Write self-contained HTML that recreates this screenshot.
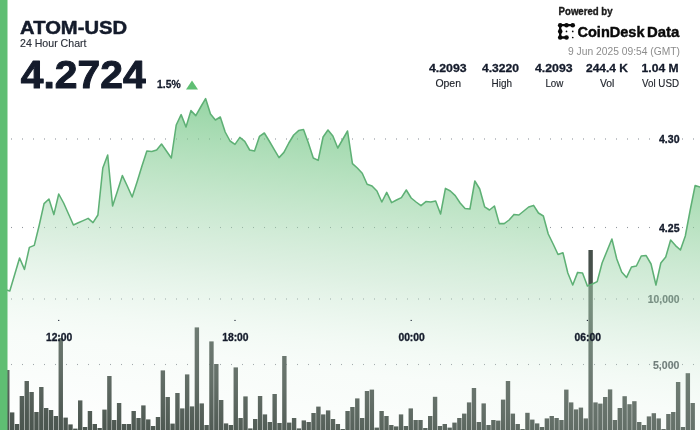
<!DOCTYPE html>
<html lang="en"><head><meta charset="utf-8"><title>ATOM-USD 24 Hour Chart</title>
<style>html,body{margin:0;padding:0;background:#fff;}svg{display:block;}</style></head>
<body>
<svg width="700" height="430" viewBox="0 0 700 430" font-family="'Liberation Sans', sans-serif">
<defs>
<linearGradient id="ag" gradientUnits="userSpaceOnUse" x1="300.00" y1="98.00" x2="257.80" y2="464.99"><stop offset="0.0000" stop-color="#5dbe73" stop-opacity="0.685"/><stop offset="0.2321" stop-color="#89ce97" stop-opacity="0.570"/><stop offset="0.4643" stop-color="#b4ddbe" stop-opacity="0.445"/><stop offset="0.5625" stop-color="#c3e5cc" stop-opacity="0.350"/><stop offset="0.6473" stop-color="#d4eddb" stop-opacity="0.280"/><stop offset="0.7232" stop-color="#e0f2e5" stop-opacity="0.227"/><stop offset="0.7812" stop-color="#e0f2e5" stop-opacity="0.197"/><stop offset="0.8661" stop-color="#e0f2e5" stop-opacity="0.118"/><stop offset="0.9375" stop-color="#e0f2e5" stop-opacity="0.053"/><stop offset="1.0000" stop-color="#e0f2e5" stop-opacity="0.020"/></linearGradient>
</defs>
<rect width="700" height="430" fill="#fff"/>
<g fill="#92969d">
<rect x="11.00" y="138.45" width="1" height="1.1"/><rect x="22.00" y="138.45" width="1" height="1.1"/><rect x="33.00" y="138.45" width="1" height="1.1"/><rect x="44.00" y="138.45" width="1" height="1.1"/><rect x="55.00" y="138.45" width="1" height="1.1"/><rect x="66.00" y="138.45" width="1" height="1.1"/><rect x="77.00" y="138.45" width="1" height="1.1"/><rect x="88.00" y="138.45" width="1" height="1.1"/><rect x="99.00" y="138.45" width="1" height="1.1"/><rect x="110.00" y="138.45" width="1" height="1.1"/><rect x="121.00" y="138.45" width="1" height="1.1"/><rect x="132.00" y="138.45" width="1" height="1.1"/><rect x="143.00" y="138.45" width="1" height="1.1"/><rect x="154.00" y="138.45" width="1" height="1.1"/><rect x="165.00" y="138.45" width="1" height="1.1"/><rect x="176.00" y="138.45" width="1" height="1.1"/><rect x="187.00" y="138.45" width="1" height="1.1"/><rect x="198.00" y="138.45" width="1" height="1.1"/><rect x="209.00" y="138.45" width="1" height="1.1"/><rect x="220.00" y="138.45" width="1" height="1.1"/><rect x="231.00" y="138.45" width="1" height="1.1"/><rect x="242.00" y="138.45" width="1" height="1.1"/><rect x="253.00" y="138.45" width="1" height="1.1"/><rect x="264.00" y="138.45" width="1" height="1.1"/><rect x="275.00" y="138.45" width="1" height="1.1"/><rect x="286.00" y="138.45" width="1" height="1.1"/><rect x="297.00" y="138.45" width="1" height="1.1"/><rect x="308.00" y="138.45" width="1" height="1.1"/><rect x="319.00" y="138.45" width="1" height="1.1"/><rect x="330.00" y="138.45" width="1" height="1.1"/><rect x="341.00" y="138.45" width="1" height="1.1"/><rect x="352.00" y="138.45" width="1" height="1.1"/><rect x="363.00" y="138.45" width="1" height="1.1"/><rect x="374.00" y="138.45" width="1" height="1.1"/><rect x="385.00" y="138.45" width="1" height="1.1"/><rect x="396.00" y="138.45" width="1" height="1.1"/><rect x="407.00" y="138.45" width="1" height="1.1"/><rect x="418.00" y="138.45" width="1" height="1.1"/><rect x="429.00" y="138.45" width="1" height="1.1"/><rect x="440.00" y="138.45" width="1" height="1.1"/><rect x="451.00" y="138.45" width="1" height="1.1"/><rect x="462.00" y="138.45" width="1" height="1.1"/><rect x="473.00" y="138.45" width="1" height="1.1"/><rect x="484.00" y="138.45" width="1" height="1.1"/><rect x="495.00" y="138.45" width="1" height="1.1"/><rect x="506.00" y="138.45" width="1" height="1.1"/><rect x="517.00" y="138.45" width="1" height="1.1"/><rect x="528.00" y="138.45" width="1" height="1.1"/><rect x="539.00" y="138.45" width="1" height="1.1"/><rect x="550.00" y="138.45" width="1" height="1.1"/><rect x="561.00" y="138.45" width="1" height="1.1"/><rect x="572.00" y="138.45" width="1" height="1.1"/><rect x="583.00" y="138.45" width="1" height="1.1"/><rect x="594.00" y="138.45" width="1" height="1.1"/><rect x="605.00" y="138.45" width="1" height="1.1"/><rect x="616.00" y="138.45" width="1" height="1.1"/><rect x="627.00" y="138.45" width="1" height="1.1"/><rect x="638.00" y="138.45" width="1" height="1.1"/><rect x="649.00" y="138.45" width="1" height="1.1"/><rect x="660.00" y="138.45" width="1" height="1.1"/><rect x="671.00" y="138.45" width="1" height="1.1"/><rect x="682.00" y="138.45" width="1" height="1.1"/><rect x="693.00" y="138.45" width="1" height="1.1"/>
<rect x="11.00" y="226.95" width="1" height="1.1"/><rect x="22.00" y="226.95" width="1" height="1.1"/><rect x="33.00" y="226.95" width="1" height="1.1"/><rect x="44.00" y="226.95" width="1" height="1.1"/><rect x="55.00" y="226.95" width="1" height="1.1"/><rect x="66.00" y="226.95" width="1" height="1.1"/><rect x="77.00" y="226.95" width="1" height="1.1"/><rect x="88.00" y="226.95" width="1" height="1.1"/><rect x="99.00" y="226.95" width="1" height="1.1"/><rect x="110.00" y="226.95" width="1" height="1.1"/><rect x="121.00" y="226.95" width="1" height="1.1"/><rect x="132.00" y="226.95" width="1" height="1.1"/><rect x="143.00" y="226.95" width="1" height="1.1"/><rect x="154.00" y="226.95" width="1" height="1.1"/><rect x="165.00" y="226.95" width="1" height="1.1"/><rect x="176.00" y="226.95" width="1" height="1.1"/><rect x="187.00" y="226.95" width="1" height="1.1"/><rect x="198.00" y="226.95" width="1" height="1.1"/><rect x="209.00" y="226.95" width="1" height="1.1"/><rect x="220.00" y="226.95" width="1" height="1.1"/><rect x="231.00" y="226.95" width="1" height="1.1"/><rect x="242.00" y="226.95" width="1" height="1.1"/><rect x="253.00" y="226.95" width="1" height="1.1"/><rect x="264.00" y="226.95" width="1" height="1.1"/><rect x="275.00" y="226.95" width="1" height="1.1"/><rect x="286.00" y="226.95" width="1" height="1.1"/><rect x="297.00" y="226.95" width="1" height="1.1"/><rect x="308.00" y="226.95" width="1" height="1.1"/><rect x="319.00" y="226.95" width="1" height="1.1"/><rect x="330.00" y="226.95" width="1" height="1.1"/><rect x="341.00" y="226.95" width="1" height="1.1"/><rect x="352.00" y="226.95" width="1" height="1.1"/><rect x="363.00" y="226.95" width="1" height="1.1"/><rect x="374.00" y="226.95" width="1" height="1.1"/><rect x="385.00" y="226.95" width="1" height="1.1"/><rect x="396.00" y="226.95" width="1" height="1.1"/><rect x="407.00" y="226.95" width="1" height="1.1"/><rect x="418.00" y="226.95" width="1" height="1.1"/><rect x="429.00" y="226.95" width="1" height="1.1"/><rect x="440.00" y="226.95" width="1" height="1.1"/><rect x="451.00" y="226.95" width="1" height="1.1"/><rect x="462.00" y="226.95" width="1" height="1.1"/><rect x="473.00" y="226.95" width="1" height="1.1"/><rect x="484.00" y="226.95" width="1" height="1.1"/><rect x="495.00" y="226.95" width="1" height="1.1"/><rect x="506.00" y="226.95" width="1" height="1.1"/><rect x="517.00" y="226.95" width="1" height="1.1"/><rect x="528.00" y="226.95" width="1" height="1.1"/><rect x="539.00" y="226.95" width="1" height="1.1"/><rect x="550.00" y="226.95" width="1" height="1.1"/><rect x="561.00" y="226.95" width="1" height="1.1"/><rect x="572.00" y="226.95" width="1" height="1.1"/><rect x="583.00" y="226.95" width="1" height="1.1"/><rect x="594.00" y="226.95" width="1" height="1.1"/><rect x="605.00" y="226.95" width="1" height="1.1"/><rect x="616.00" y="226.95" width="1" height="1.1"/><rect x="627.00" y="226.95" width="1" height="1.1"/><rect x="638.00" y="226.95" width="1" height="1.1"/><rect x="649.00" y="226.95" width="1" height="1.1"/><rect x="660.00" y="226.95" width="1" height="1.1"/><rect x="671.00" y="226.95" width="1" height="1.1"/><rect x="682.00" y="226.95" width="1" height="1.1"/><rect x="693.00" y="226.95" width="1" height="1.1"/>
<rect x="11.00" y="298.45" width="1" height="1.1"/><rect x="22.00" y="298.45" width="1" height="1.1"/><rect x="33.00" y="298.45" width="1" height="1.1"/><rect x="44.00" y="298.45" width="1" height="1.1"/><rect x="55.00" y="298.45" width="1" height="1.1"/><rect x="66.00" y="298.45" width="1" height="1.1"/><rect x="77.00" y="298.45" width="1" height="1.1"/><rect x="88.00" y="298.45" width="1" height="1.1"/><rect x="99.00" y="298.45" width="1" height="1.1"/><rect x="110.00" y="298.45" width="1" height="1.1"/><rect x="121.00" y="298.45" width="1" height="1.1"/><rect x="132.00" y="298.45" width="1" height="1.1"/><rect x="143.00" y="298.45" width="1" height="1.1"/><rect x="154.00" y="298.45" width="1" height="1.1"/><rect x="165.00" y="298.45" width="1" height="1.1"/><rect x="176.00" y="298.45" width="1" height="1.1"/><rect x="187.00" y="298.45" width="1" height="1.1"/><rect x="198.00" y="298.45" width="1" height="1.1"/><rect x="209.00" y="298.45" width="1" height="1.1"/><rect x="220.00" y="298.45" width="1" height="1.1"/><rect x="231.00" y="298.45" width="1" height="1.1"/><rect x="242.00" y="298.45" width="1" height="1.1"/><rect x="253.00" y="298.45" width="1" height="1.1"/><rect x="264.00" y="298.45" width="1" height="1.1"/><rect x="275.00" y="298.45" width="1" height="1.1"/><rect x="286.00" y="298.45" width="1" height="1.1"/><rect x="297.00" y="298.45" width="1" height="1.1"/><rect x="308.00" y="298.45" width="1" height="1.1"/><rect x="319.00" y="298.45" width="1" height="1.1"/><rect x="330.00" y="298.45" width="1" height="1.1"/><rect x="341.00" y="298.45" width="1" height="1.1"/><rect x="352.00" y="298.45" width="1" height="1.1"/><rect x="363.00" y="298.45" width="1" height="1.1"/><rect x="374.00" y="298.45" width="1" height="1.1"/><rect x="385.00" y="298.45" width="1" height="1.1"/><rect x="396.00" y="298.45" width="1" height="1.1"/><rect x="407.00" y="298.45" width="1" height="1.1"/><rect x="418.00" y="298.45" width="1" height="1.1"/><rect x="429.00" y="298.45" width="1" height="1.1"/><rect x="440.00" y="298.45" width="1" height="1.1"/><rect x="451.00" y="298.45" width="1" height="1.1"/><rect x="462.00" y="298.45" width="1" height="1.1"/><rect x="473.00" y="298.45" width="1" height="1.1"/><rect x="484.00" y="298.45" width="1" height="1.1"/><rect x="495.00" y="298.45" width="1" height="1.1"/><rect x="506.00" y="298.45" width="1" height="1.1"/><rect x="517.00" y="298.45" width="1" height="1.1"/><rect x="528.00" y="298.45" width="1" height="1.1"/><rect x="539.00" y="298.45" width="1" height="1.1"/><rect x="550.00" y="298.45" width="1" height="1.1"/><rect x="561.00" y="298.45" width="1" height="1.1"/><rect x="572.00" y="298.45" width="1" height="1.1"/><rect x="583.00" y="298.45" width="1" height="1.1"/><rect x="594.00" y="298.45" width="1" height="1.1"/><rect x="605.00" y="298.45" width="1" height="1.1"/><rect x="616.00" y="298.45" width="1" height="1.1"/><rect x="627.00" y="298.45" width="1" height="1.1"/><rect x="638.00" y="298.45" width="1" height="1.1"/><rect x="649.00" y="298.45" width="1" height="1.1"/><rect x="660.00" y="298.45" width="1" height="1.1"/><rect x="671.00" y="298.45" width="1" height="1.1"/><rect x="682.00" y="298.45" width="1" height="1.1"/><rect x="693.00" y="298.45" width="1" height="1.1"/>
<rect x="11.00" y="363.95" width="1" height="1.1"/><rect x="22.00" y="363.95" width="1" height="1.1"/><rect x="33.00" y="363.95" width="1" height="1.1"/><rect x="44.00" y="363.95" width="1" height="1.1"/><rect x="55.00" y="363.95" width="1" height="1.1"/><rect x="66.00" y="363.95" width="1" height="1.1"/><rect x="77.00" y="363.95" width="1" height="1.1"/><rect x="88.00" y="363.95" width="1" height="1.1"/><rect x="99.00" y="363.95" width="1" height="1.1"/><rect x="110.00" y="363.95" width="1" height="1.1"/><rect x="121.00" y="363.95" width="1" height="1.1"/><rect x="132.00" y="363.95" width="1" height="1.1"/><rect x="143.00" y="363.95" width="1" height="1.1"/><rect x="154.00" y="363.95" width="1" height="1.1"/><rect x="165.00" y="363.95" width="1" height="1.1"/><rect x="176.00" y="363.95" width="1" height="1.1"/><rect x="187.00" y="363.95" width="1" height="1.1"/><rect x="198.00" y="363.95" width="1" height="1.1"/><rect x="209.00" y="363.95" width="1" height="1.1"/><rect x="220.00" y="363.95" width="1" height="1.1"/><rect x="231.00" y="363.95" width="1" height="1.1"/><rect x="242.00" y="363.95" width="1" height="1.1"/><rect x="253.00" y="363.95" width="1" height="1.1"/><rect x="264.00" y="363.95" width="1" height="1.1"/><rect x="275.00" y="363.95" width="1" height="1.1"/><rect x="286.00" y="363.95" width="1" height="1.1"/><rect x="297.00" y="363.95" width="1" height="1.1"/><rect x="308.00" y="363.95" width="1" height="1.1"/><rect x="319.00" y="363.95" width="1" height="1.1"/><rect x="330.00" y="363.95" width="1" height="1.1"/><rect x="341.00" y="363.95" width="1" height="1.1"/><rect x="352.00" y="363.95" width="1" height="1.1"/><rect x="363.00" y="363.95" width="1" height="1.1"/><rect x="374.00" y="363.95" width="1" height="1.1"/><rect x="385.00" y="363.95" width="1" height="1.1"/><rect x="396.00" y="363.95" width="1" height="1.1"/><rect x="407.00" y="363.95" width="1" height="1.1"/><rect x="418.00" y="363.95" width="1" height="1.1"/><rect x="429.00" y="363.95" width="1" height="1.1"/><rect x="440.00" y="363.95" width="1" height="1.1"/><rect x="451.00" y="363.95" width="1" height="1.1"/><rect x="462.00" y="363.95" width="1" height="1.1"/><rect x="473.00" y="363.95" width="1" height="1.1"/><rect x="484.00" y="363.95" width="1" height="1.1"/><rect x="495.00" y="363.95" width="1" height="1.1"/><rect x="506.00" y="363.95" width="1" height="1.1"/><rect x="517.00" y="363.95" width="1" height="1.1"/><rect x="528.00" y="363.95" width="1" height="1.1"/><rect x="539.00" y="363.95" width="1" height="1.1"/><rect x="550.00" y="363.95" width="1" height="1.1"/><rect x="561.00" y="363.95" width="1" height="1.1"/><rect x="572.00" y="363.95" width="1" height="1.1"/><rect x="583.00" y="363.95" width="1" height="1.1"/><rect x="594.00" y="363.95" width="1" height="1.1"/><rect x="605.00" y="363.95" width="1" height="1.1"/><rect x="616.00" y="363.95" width="1" height="1.1"/><rect x="627.00" y="363.95" width="1" height="1.1"/><rect x="638.00" y="363.95" width="1" height="1.1"/><rect x="649.00" y="363.95" width="1" height="1.1"/><rect x="660.00" y="363.95" width="1" height="1.1"/><rect x="671.00" y="363.95" width="1" height="1.1"/><rect x="682.00" y="363.95" width="1" height="1.1"/><rect x="693.00" y="363.95" width="1" height="1.1"/>
</g>
<g fill="#46504a">
<rect x="0.23" y="400.0" width="4.4" height="30.0"/>
<rect x="5.09" y="370.0" width="4.4" height="60.0"/>
<rect x="9.95" y="412.4" width="4.4" height="17.6"/>
<rect x="14.81" y="424.0" width="4.4" height="6.0"/>
<rect x="19.67" y="396.0" width="4.4" height="34.0"/>
<rect x="24.54" y="381.0" width="4.4" height="49.0"/>
<rect x="29.40" y="392.0" width="4.4" height="38.0"/>
<rect x="34.26" y="412.0" width="4.4" height="18.0"/>
<rect x="39.12" y="387.0" width="4.4" height="43.0"/>
<rect x="43.98" y="408.0" width="4.4" height="22.0"/>
<rect x="48.84" y="410.0" width="4.4" height="20.0"/>
<rect x="53.70" y="416.0" width="4.4" height="14.0"/>
<rect x="58.56" y="338.0" width="4.4" height="92.0"/>
<rect x="63.42" y="417.6" width="4.4" height="12.4"/>
<rect x="68.29" y="424.4" width="4.4" height="5.6"/>
<rect x="73.15" y="428.6" width="4.4" height="1.4"/>
<rect x="78.01" y="400.4" width="4.4" height="29.6"/>
<rect x="82.87" y="427.0" width="4.4" height="3.0"/>
<rect x="87.73" y="411.0" width="4.4" height="19.0"/>
<rect x="92.59" y="424.0" width="4.4" height="6.0"/>
<rect x="97.45" y="428.0" width="4.4" height="2.0"/>
<rect x="102.31" y="409.6" width="4.4" height="20.4"/>
<rect x="107.17" y="376.0" width="4.4" height="54.0"/>
<rect x="112.04" y="420.0" width="4.4" height="10.0"/>
<rect x="116.90" y="403.0" width="4.4" height="27.0"/>
<rect x="121.76" y="424.0" width="4.4" height="6.0"/>
<rect x="126.62" y="424.0" width="4.4" height="6.0"/>
<rect x="131.48" y="411.0" width="4.4" height="19.0"/>
<rect x="136.34" y="418.0" width="4.4" height="12.0"/>
<rect x="141.20" y="405.4" width="4.4" height="24.6"/>
<rect x="146.06" y="419.4" width="4.4" height="10.6"/>
<rect x="150.92" y="426.0" width="4.4" height="4.0"/>
<rect x="155.79" y="417.0" width="4.4" height="13.0"/>
<rect x="160.65" y="370.4" width="4.4" height="59.6"/>
<rect x="165.51" y="397.0" width="4.4" height="33.0"/>
<rect x="170.37" y="423.6" width="4.4" height="6.4"/>
<rect x="175.23" y="393.0" width="4.4" height="37.0"/>
<rect x="180.09" y="408.4" width="4.4" height="21.6"/>
<rect x="184.95" y="374.4" width="4.4" height="55.6"/>
<rect x="189.81" y="406.4" width="4.4" height="23.6"/>
<rect x="194.67" y="327.4" width="4.4" height="102.6"/>
<rect x="199.54" y="403.4" width="4.4" height="26.6"/>
<rect x="204.40" y="425.0" width="4.4" height="5.0"/>
<rect x="209.26" y="341.4" width="4.4" height="88.6"/>
<rect x="214.12" y="364.0" width="4.4" height="66.0"/>
<rect x="218.98" y="400.0" width="4.4" height="30.0"/>
<rect x="223.84" y="423.4" width="4.4" height="6.6"/>
<rect x="228.70" y="425.0" width="4.4" height="5.0"/>
<rect x="233.56" y="367.4" width="4.4" height="62.6"/>
<rect x="238.42" y="418.0" width="4.4" height="12.0"/>
<rect x="243.29" y="396.4" width="4.4" height="33.6"/>
<rect x="248.15" y="428.4" width="4.4" height="1.6"/>
<rect x="253.01" y="419.0" width="4.4" height="11.0"/>
<rect x="257.87" y="396.0" width="4.4" height="34.0"/>
<rect x="262.73" y="414.4" width="4.4" height="15.6"/>
<rect x="267.59" y="422.0" width="4.4" height="8.0"/>
<rect x="272.45" y="394.0" width="4.4" height="36.0"/>
<rect x="277.31" y="423.0" width="4.4" height="7.0"/>
<rect x="282.17" y="356.0" width="4.4" height="74.0"/>
<rect x="287.04" y="422.6" width="4.4" height="7.4"/>
<rect x="291.90" y="418.0" width="4.4" height="12.0"/>
<rect x="296.76" y="428.4" width="4.4" height="1.6"/>
<rect x="301.62" y="420.4" width="4.4" height="9.6"/>
<rect x="306.48" y="422.0" width="4.4" height="8.0"/>
<rect x="311.34" y="413.0" width="4.4" height="17.0"/>
<rect x="316.20" y="406.6" width="4.4" height="23.4"/>
<rect x="321.06" y="414.4" width="4.4" height="15.6"/>
<rect x="325.92" y="410.4" width="4.4" height="19.6"/>
<rect x="330.79" y="419.0" width="4.4" height="11.0"/>
<rect x="335.65" y="424.0" width="4.4" height="6.0"/>
<rect x="340.51" y="429.0" width="4.4" height="1.0"/>
<rect x="345.37" y="411.0" width="4.4" height="19.0"/>
<rect x="350.23" y="407.0" width="4.4" height="23.0"/>
<rect x="355.09" y="398.4" width="4.4" height="31.6"/>
<rect x="359.95" y="418.0" width="4.4" height="12.0"/>
<rect x="364.81" y="391.0" width="4.4" height="39.0"/>
<rect x="369.67" y="389.6" width="4.4" height="40.4"/>
<rect x="374.54" y="427.6" width="4.4" height="2.4"/>
<rect x="379.40" y="411.0" width="4.4" height="19.0"/>
<rect x="384.26" y="416.0" width="4.4" height="14.0"/>
<rect x="389.12" y="425.0" width="4.4" height="5.0"/>
<rect x="393.98" y="426.4" width="4.4" height="3.6"/>
<rect x="398.84" y="414.4" width="4.4" height="15.6"/>
<rect x="403.70" y="426.0" width="4.4" height="4.0"/>
<rect x="408.56" y="408.4" width="4.4" height="21.6"/>
<rect x="413.42" y="420.0" width="4.4" height="10.0"/>
<rect x="418.29" y="420.0" width="4.4" height="10.0"/>
<rect x="423.15" y="428.0" width="4.4" height="2.0"/>
<rect x="428.01" y="416.0" width="4.4" height="14.0"/>
<rect x="432.87" y="396.8" width="4.4" height="33.2"/>
<rect x="437.73" y="426.0" width="4.4" height="4.0"/>
<rect x="442.59" y="424.0" width="4.4" height="6.0"/>
<rect x="447.45" y="427.6" width="4.4" height="2.4"/>
<rect x="452.31" y="422.6" width="4.4" height="7.4"/>
<rect x="457.17" y="418.0" width="4.4" height="12.0"/>
<rect x="462.04" y="413.6" width="4.4" height="16.4"/>
<rect x="466.90" y="402.4" width="4.4" height="27.6"/>
<rect x="471.76" y="388.0" width="4.4" height="42.0"/>
<rect x="476.62" y="422.0" width="4.4" height="8.0"/>
<rect x="481.48" y="403.4" width="4.4" height="26.6"/>
<rect x="486.34" y="425.0" width="4.4" height="5.0"/>
<rect x="491.20" y="420.0" width="4.4" height="10.0"/>
<rect x="496.06" y="420.6" width="4.4" height="9.4"/>
<rect x="500.92" y="399.6" width="4.4" height="30.4"/>
<rect x="505.79" y="381.0" width="4.4" height="49.0"/>
<rect x="510.65" y="413.6" width="4.4" height="16.4"/>
<rect x="515.51" y="424.0" width="4.4" height="6.0"/>
<rect x="520.37" y="429.0" width="4.4" height="1.0"/>
<rect x="525.23" y="412.8" width="4.4" height="17.2"/>
<rect x="530.09" y="419.6" width="4.4" height="10.4"/>
<rect x="534.95" y="423.4" width="4.4" height="6.6"/>
<rect x="539.81" y="427.0" width="4.4" height="3.0"/>
<rect x="544.67" y="418.4" width="4.4" height="11.6"/>
<rect x="549.54" y="416.0" width="4.4" height="14.0"/>
<rect x="554.40" y="418.0" width="4.4" height="12.0"/>
<rect x="559.26" y="420.0" width="4.4" height="10.0"/>
<rect x="564.12" y="389.6" width="4.4" height="40.4"/>
<rect x="568.98" y="402.4" width="4.4" height="27.6"/>
<rect x="573.84" y="409.4" width="4.4" height="20.6"/>
<rect x="578.70" y="407.6" width="4.4" height="22.4"/>
<rect x="583.56" y="418.4" width="4.4" height="11.6"/>
<rect x="588.42" y="250.0" width="4.4" height="180.0"/>
<rect x="593.29" y="402.4" width="4.4" height="27.6"/>
<rect x="598.15" y="403.6" width="4.4" height="26.4"/>
<rect x="603.01" y="397.0" width="4.4" height="33.0"/>
<rect x="607.87" y="389.4" width="4.4" height="40.6"/>
<rect x="612.73" y="420.0" width="4.4" height="10.0"/>
<rect x="617.59" y="408.0" width="4.4" height="22.0"/>
<rect x="622.45" y="396.2" width="4.4" height="33.8"/>
<rect x="627.31" y="404.2" width="4.4" height="25.8"/>
<rect x="632.17" y="401.2" width="4.4" height="28.8"/>
<rect x="637.04" y="422.0" width="4.4" height="8.0"/>
<rect x="641.90" y="425.0" width="4.4" height="5.0"/>
<rect x="646.76" y="416.4" width="4.4" height="13.6"/>
<rect x="651.62" y="413.2" width="4.4" height="16.8"/>
<rect x="656.48" y="418.4" width="4.4" height="11.6"/>
<rect x="661.34" y="429.0" width="4.4" height="1.0"/>
<rect x="666.20" y="414.0" width="4.4" height="16.0"/>
<rect x="671.06" y="412.0" width="4.4" height="18.0"/>
<rect x="675.92" y="382.0" width="4.4" height="48.0"/>
<rect x="680.79" y="427.0" width="4.4" height="3.0"/>
<rect x="685.65" y="373.2" width="4.4" height="56.8"/>
<rect x="690.51" y="403.0" width="4.4" height="27.0"/>
</g>
<text x="647.8" y="303" font-size="11" font-weight="bold" fill="#474d53" textLength="31.7" lengthAdjust="spacingAndGlyphs" stroke="#474d53" stroke-width="0.15" stroke-linejoin="round">10,000</text>
<text x="653" y="368.7" font-size="11" font-weight="bold" fill="#474d53" textLength="26.4" lengthAdjust="spacingAndGlyphs" stroke="#474d53" stroke-width="0.15" stroke-linejoin="round">5,000</text>
<path d="M0.00,290.00 L4.90,289.50 L9.79,291.00 L14.69,274.50 L19.58,258.00 L24.48,269.40 L29.37,247.40 L34.27,245.40 L39.16,225.50 L44.06,203.60 L48.95,199.00 L53.85,214.60 L58.74,194.00 L63.64,203.00 L68.53,214.00 L73.43,225.00 L78.32,222.80 L83.22,220.60 L88.11,218.40 L93.01,222.60 L97.90,215.00 L102.80,168.00 L107.69,155.00 L112.59,206.00 L117.48,191.00 L122.38,175.60 L127.27,186.00 L132.17,197.00 L137.06,182.00 L141.96,166.00 L146.85,151.00 L151.75,151.40 L156.64,150.00 L161.54,144.00 L166.43,151.00 L171.33,158.00 L176.22,125.00 L181.12,114.60 L186.01,127.00 L190.91,110.60 L195.80,115.60 L200.70,107.00 L205.59,98.60 L210.49,114.00 L215.38,120.00 L220.28,117.00 L225.17,132.00 L230.07,141.00 L234.97,144.40 L239.86,137.40 L244.76,141.40 L249.65,150.00 L254.55,151.00 L259.44,136.40 L264.34,133.00 L269.23,141.00 L274.13,149.40 L279.02,157.60 L283.92,152.40 L288.81,143.00 L293.71,135.00 L298.60,130.60 L303.50,129.60 L308.39,143.00 L313.29,158.00 L318.18,160.40 L323.08,137.00 L327.97,130.00 L332.87,136.00 L337.76,148.00 L342.66,139.50 L347.55,131.00 L352.45,163.60 L357.34,168.00 L362.24,173.30 L367.13,184.20 L372.03,186.00 L376.92,191.00 L381.82,202.00 L386.71,192.40 L391.61,202.60 L396.50,200.00 L401.40,197.60 L406.29,190.00 L411.19,198.00 L416.08,202.00 L420.98,205.60 L425.87,201.60 L430.77,202.00 L435.66,201.00 L440.56,214.00 L445.45,188.40 L450.35,191.00 L455.24,195.60 L460.14,203.00 L465.03,208.40 L469.93,209.00 L474.83,181.00 L479.72,189.00 L484.62,206.80 L489.51,210.00 L494.41,206.00 L499.30,223.60 L504.20,223.60 L509.09,220.00 L513.99,214.40 L518.88,215.00 L523.78,211.00 L528.67,207.00 L533.57,205.40 L538.46,213.00 L543.36,216.00 L548.25,234.00 L553.15,244.00 L558.04,254.50 L562.94,252.70 L567.83,273.00 L572.73,285.00 L577.62,272.40 L582.52,273.00 L587.41,286.00 L592.31,284.00 L597.20,281.60 L602.10,263.00 L606.99,251.00 L611.89,239.00 L616.78,259.00 L621.68,272.00 L626.57,277.40 L631.47,267.00 L636.36,266.00 L641.26,256.00 L646.15,255.60 L651.05,264.00 L655.94,285.00 L660.84,263.00 L665.73,257.00 L670.63,240.00 L675.52,245.60 L680.42,250.00 L685.31,236.00 L690.21,210.00 L695.10,185.60 L700.00,187.00 L700,430 L0,430 Z" fill="url(#ag)"/>
<path d="M0.00,290.00 L4.90,289.50 L9.79,291.00 L14.69,274.50 L19.58,258.00 L24.48,269.40 L29.37,247.40 L34.27,245.40 L39.16,225.50 L44.06,203.60 L48.95,199.00 L53.85,214.60 L58.74,194.00 L63.64,203.00 L68.53,214.00 L73.43,225.00 L78.32,222.80 L83.22,220.60 L88.11,218.40 L93.01,222.60 L97.90,215.00 L102.80,168.00 L107.69,155.00 L112.59,206.00 L117.48,191.00 L122.38,175.60 L127.27,186.00 L132.17,197.00 L137.06,182.00 L141.96,166.00 L146.85,151.00 L151.75,151.40 L156.64,150.00 L161.54,144.00 L166.43,151.00 L171.33,158.00 L176.22,125.00 L181.12,114.60 L186.01,127.00 L190.91,110.60 L195.80,115.60 L200.70,107.00 L205.59,98.60 L210.49,114.00 L215.38,120.00 L220.28,117.00 L225.17,132.00 L230.07,141.00 L234.97,144.40 L239.86,137.40 L244.76,141.40 L249.65,150.00 L254.55,151.00 L259.44,136.40 L264.34,133.00 L269.23,141.00 L274.13,149.40 L279.02,157.60 L283.92,152.40 L288.81,143.00 L293.71,135.00 L298.60,130.60 L303.50,129.60 L308.39,143.00 L313.29,158.00 L318.18,160.40 L323.08,137.00 L327.97,130.00 L332.87,136.00 L337.76,148.00 L342.66,139.50 L347.55,131.00 L352.45,163.60 L357.34,168.00 L362.24,173.30 L367.13,184.20 L372.03,186.00 L376.92,191.00 L381.82,202.00 L386.71,192.40 L391.61,202.60 L396.50,200.00 L401.40,197.60 L406.29,190.00 L411.19,198.00 L416.08,202.00 L420.98,205.60 L425.87,201.60 L430.77,202.00 L435.66,201.00 L440.56,214.00 L445.45,188.40 L450.35,191.00 L455.24,195.60 L460.14,203.00 L465.03,208.40 L469.93,209.00 L474.83,181.00 L479.72,189.00 L484.62,206.80 L489.51,210.00 L494.41,206.00 L499.30,223.60 L504.20,223.60 L509.09,220.00 L513.99,214.40 L518.88,215.00 L523.78,211.00 L528.67,207.00 L533.57,205.40 L538.46,213.00 L543.36,216.00 L548.25,234.00 L553.15,244.00 L558.04,254.50 L562.94,252.70 L567.83,273.00 L572.73,285.00 L577.62,272.40 L582.52,273.00 L587.41,286.00 L592.31,284.00 L597.20,281.60 L602.10,263.00 L606.99,251.00 L611.89,239.00 L616.78,259.00 L621.68,272.00 L626.57,277.40 L631.47,267.00 L636.36,266.00 L641.26,256.00 L646.15,255.60 L651.05,264.00 L655.94,285.00 L660.84,263.00 L665.73,257.00 L670.63,240.00 L675.52,245.60 L680.42,250.00 L685.31,236.00 L690.21,210.00 L695.10,185.60 L700.00,187.00" fill="none" stroke="#5eb075" stroke-width="1.55" stroke-linejoin="round" stroke-linecap="round"/>
<rect x="0" y="0" width="7.5" height="430" fill="#5fbe73"/>
<text x="20.1" y="33.5" font-size="18.9" font-weight="bold" fill="#141b2b" textLength="107" lengthAdjust="spacingAndGlyphs" stroke="#141b2b" stroke-width="0.5" stroke-linejoin="round">ATOM-USD</text>
<text x="20" y="47" font-size="11.6" fill="#2b303a" textLength="66.5" lengthAdjust="spacingAndGlyphs" stroke="#2b303a" stroke-width="0.15" stroke-linejoin="round">24 Hour Chart</text>
<text x="20.8" y="87.6" font-size="38.4" font-weight="bold" fill="#141b2b" textLength="124.8" lengthAdjust="spacingAndGlyphs" stroke="#141b2b" stroke-width="1.0" stroke-linejoin="round">4.2724</text>
<text x="157" y="88" font-size="11" font-weight="bold" fill="#141b2b" textLength="23.6" lengthAdjust="spacingAndGlyphs" stroke="#141b2b" stroke-width="0.3" stroke-linejoin="round">1.5%</text>
<path d="M186,89.6 L198,89.6 L192,80.4 Z" fill="#5fbe73"/>
<text x="558.6" y="14.5" font-size="10" font-weight="bold" fill="#1a1a1a" textLength="54" lengthAdjust="spacingAndGlyphs" stroke="#1a1a1a" stroke-width="0.35" stroke-linejoin="round">Powered by</text>
<g fill="#0a0a0a" stroke="#0a0a0a">
<path d="M572.75,25.2 L560.2,25.2 L560.2,37.5 L566.5,37.5" fill="none" stroke-width="2.3" stroke-linecap="round" stroke-linejoin="round"/>
<circle cx="560.2" cy="25.2" r="2.3" stroke="none"/>
<circle cx="566.5" cy="25.2" r="2.3" stroke="none"/>
<circle cx="572.75" cy="25.2" r="2.3" stroke="none"/>
<circle cx="560.2" cy="31.4" r="2.3" stroke="none"/>
<circle cx="560.2" cy="37.5" r="2.3" stroke="none"/>
<circle cx="566.5" cy="37.5" r="2.3" stroke="none"/>
<circle cx="566.5" cy="31.4" r="0.85" stroke="none"/>
<circle cx="572.75" cy="31.4" r="0.85" stroke="none"/>
<circle cx="572.75" cy="37.5" r="0.85" stroke="none"/>
</g>
<text x="577.5" y="36.5" font-size="14.8" font-weight="bold" fill="#0a0a0a" textLength="67" lengthAdjust="spacingAndGlyphs" stroke="#0a0a0a" stroke-width="0.45" stroke-linejoin="round">CoinDesk</text>
<text x="647.0" y="36.5" font-size="14.8" font-weight="bold" fill="#0a0a0a" textLength="32.3" lengthAdjust="spacingAndGlyphs" stroke="#0a0a0a" stroke-width="0.45" stroke-linejoin="round">Data</text>
<text x="568" y="55.2" font-size="10.8" fill="#8c8c8c" textLength="112" lengthAdjust="spacingAndGlyphs">9 Jun 2025 09:54 (GMT)</text>
<text x="429" y="71.8" font-size="11.5" font-weight="bold" fill="#141b2b" textLength="37.6" lengthAdjust="spacingAndGlyphs" stroke="#141b2b" stroke-width="0.3" stroke-linejoin="round">4.2093</text>
<text x="435.4" y="87" font-size="11" fill="#20242c" textLength="25.6" lengthAdjust="spacingAndGlyphs" stroke="#20242c" stroke-width="0.15" stroke-linejoin="round">Open</text>
<text x="482" y="71.8" font-size="11.5" font-weight="bold" fill="#141b2b" textLength="37" lengthAdjust="spacingAndGlyphs" stroke="#141b2b" stroke-width="0.3" stroke-linejoin="round">4.3220</text>
<text x="491.6" y="87" font-size="11" fill="#20242c" textLength="20.4" lengthAdjust="spacingAndGlyphs" stroke="#20242c" stroke-width="0.15" stroke-linejoin="round">High</text>
<text x="535" y="71.8" font-size="11.5" font-weight="bold" fill="#141b2b" textLength="37.6" lengthAdjust="spacingAndGlyphs" stroke="#141b2b" stroke-width="0.3" stroke-linejoin="round">4.2093</text>
<text x="545.4" y="87" font-size="11" fill="#20242c" textLength="18.0" lengthAdjust="spacingAndGlyphs" stroke="#20242c" stroke-width="0.15" stroke-linejoin="round">Low</text>
<text x="586" y="71.8" font-size="11.5" font-weight="bold" fill="#141b2b" textLength="42" lengthAdjust="spacingAndGlyphs" stroke="#141b2b" stroke-width="0.3" stroke-linejoin="round">244.4 K</text>
<text x="600" y="87" font-size="11" fill="#20242c" textLength="14.4" lengthAdjust="spacingAndGlyphs" stroke="#20242c" stroke-width="0.15" stroke-linejoin="round">Vol</text>
<text x="641.6" y="71.8" font-size="11.5" font-weight="bold" fill="#141b2b" textLength="37.0" lengthAdjust="spacingAndGlyphs" stroke="#141b2b" stroke-width="0.3" stroke-linejoin="round">1.04 M</text>
<text x="642" y="87" font-size="11" fill="#20242c" textLength="37" lengthAdjust="spacingAndGlyphs" stroke="#20242c" stroke-width="0.15" stroke-linejoin="round">Vol USD</text>
<text x="659" y="143" font-size="11" font-weight="bold" fill="#141b2b" textLength="20.5" lengthAdjust="spacingAndGlyphs" stroke="#141b2b" stroke-width="0.35" stroke-linejoin="round">4.30</text>
<text x="659" y="231.7" font-size="11" font-weight="bold" fill="#141b2b" textLength="20.5" lengthAdjust="spacingAndGlyphs" stroke="#141b2b" stroke-width="0.35" stroke-linejoin="round">4.25</text>
<rect x="58.1" y="319.9" width="1.2" height="1" fill="#141b2b"/>
<text x="45.9" y="341.2" font-size="11.3" font-weight="bold" fill="#141b2b" textLength="26.4" lengthAdjust="spacingAndGlyphs" stroke="#141b2b" stroke-width="0.35" stroke-linejoin="round">12:00</text>
<rect x="234.4" y="319.9" width="1.2" height="1" fill="#141b2b"/>
<text x="222.2" y="341.2" font-size="11.3" font-weight="bold" fill="#141b2b" textLength="26.4" lengthAdjust="spacingAndGlyphs" stroke="#141b2b" stroke-width="0.35" stroke-linejoin="round">18:00</text>
<rect x="410.6" y="319.9" width="1.2" height="1" fill="#141b2b"/>
<text x="398.4" y="341.2" font-size="11.3" font-weight="bold" fill="#141b2b" textLength="26.4" lengthAdjust="spacingAndGlyphs" stroke="#141b2b" stroke-width="0.35" stroke-linejoin="round">00:00</text>
<rect x="586.8" y="319.9" width="1.2" height="1" fill="#141b2b"/>
<text x="574.6" y="341.2" font-size="11.3" font-weight="bold" fill="#141b2b" textLength="26.4" lengthAdjust="spacingAndGlyphs" stroke="#141b2b" stroke-width="0.35" stroke-linejoin="round">06:00</text>
</svg>
</body></html>
